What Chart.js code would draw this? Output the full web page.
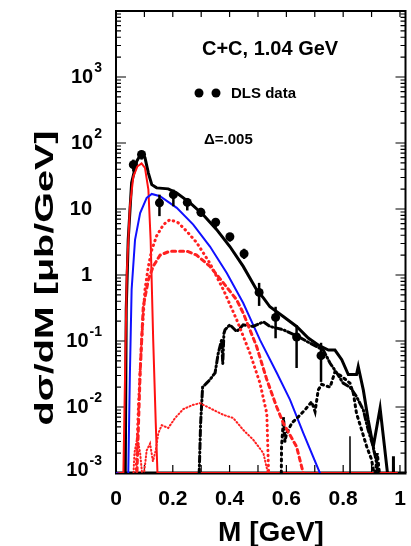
<!DOCTYPE html>
<html>
<head>
<meta charset="utf-8">
<script src="https://cdn.jsdelivr.net/npm/chart.js@4.4.1/dist/chart.umd.min.js"></script>
<style>
  html, body { margin: 0; padding: 0; background: #fff; overflow: hidden; }
  #wrap { width: 411px; height: 546px; }
  canvas { display: block; }
</style>
</head>
<body>
<div id="wrap"><canvas id="c"></canvas></div>
<script>
// DLS data points (M in GeV, dsigma/dM in mub/GeV) with error bar ends
var dlsM  = [0.061, 0.090, 0.153, 0.202, 0.251, 0.299, 0.351, 0.401, 0.451, 0.504, 0.562, 0.636, 0.722];
var dlsV  = [47, 67, 12.4, 16.5, 12.6, 8.9, 6.3, 3.8, 2.1, 0.545, 0.228, 0.115, 0.060];
var dlsLo = [37, 56, 7.8, 11, 9.5, 7.6, 5.2, 3.2, 1.75, 0.34, 0.11, 0.039, 0.024];
var dlsHi = [56, 75, 16.5, 19.7, 14.7, 10.4, 7.3, 4.3, 2.5, 0.76, 0.33, 0.173, 0.094];

// total (black solid)
var totM = [0.030, 0.036, 0.043, 0.055, 0.073, 0.090, 0.102, 0.114, 0.126, 0.143, 0.184, 0.214, 0.261, 0.307,
            0.354, 0.401, 0.448, 0.495, 0.519, 0.542, 0.589, 0.636, 0.677, 0.712, 0.748, 0.771, 0.795, 0.818,
            0.847, 0.853, 0.871, 0.888, 0.906, 0.930, 0.947, 0.960, 0.975, 0.977, 0.979];
var totV = [0.00001, 0.3, 3.4, 25, 53, 71, 60, 35, 23.4, 20.9, 20.2, 17.5, 12.4, 8.2,
            4.9, 2.7, 1.35, 0.60, 0.45, 0.33, 0.235, 0.166, 0.111, 0.087, 0.073, 0.073, 0.052, 0.031,
            0.031, 0.041, 0.018, 0.0064, 0.0025, 0.0096, 0.0022, 0.0007, 0.00001, 0.0018, 0.00001];

// narrow component (red solid)
var redM = [0, 0.026, 0.038, 0.049, 0.061, 0.075, 0.090, 0.102, 0.114, 0.122, 0.131, 0.140, 0.146, 0.99];
var redV = [0.001, 0.001, 1.07, 11, 31, 44, 49, 42, 19.7, 3.4, 0.104, 0.0057, 0.001, 0.001];

// blue solid
var bluM = [0, 0.043, 0.049, 0.055, 0.067, 0.085, 0.108, 0.126, 0.155, 0.214, 0.272, 0.331, 0.390, 0.448,
            0.507, 0.566, 0.613, 0.660, 0.718];
var bluV = [0.001, 0.0009, 0.033, 0.6, 3.4, 8.7, 14.7, 16.9, 15.6, 10.4, 5.8, 2.7, 1.07, 0.376,
            0.104, 0.033, 0.0128, 0.0040, 0.001];

// red dotted (upper)
var rdoM = [0.070, 0.079, 0.090, 0.102, 0.114, 0.126, 0.143, 0.167, 0.190, 0.219, 0.249, 0.284, 0.331,
            0.378, 0.425, 0.472, 0.507, 0.531, 0.538];
var rdoV = [0.0008, 0.01, 0.1, 0.6, 1.35, 2.4, 3.9, 5.8, 6.9, 6.2, 4.6, 3.1, 1.5,
            0.6, 0.21, 0.065, 0.023, 0.008, 0.0008];

// red dashed (lower)
var rdaM = [0.073, 0.085, 0.096, 0.114, 0.131, 0.155, 0.190, 0.249, 0.284, 0.331, 0.378, 0.425, 0.448,
            0.495, 0.531, 0.566, 0.589, 0.636, 0.665];
var rdaV = [0.0008, 0.033, 0.33, 0.85, 1.35, 2.0, 2.3, 2.3, 2.0, 1.35, 0.76, 0.42, 0.265,
            0.083, 0.026, 0.010, 0.0057, 0.0025, 0.0008];

// red fine dotted (lowest)
var rfdM = [0.060, 0.065, 0.075, 0.085, 0.095, 0.100, 0.108, 0.120, 0.130, 0.140, 0.149, 0.161, 0.184,
            0.208, 0.237, 0.272, 0.296, 0.331, 0.378, 0.413, 0.448, 0.483, 0.519, 0.540];
var rfdV = [0.0007, 0.002, 0.0035, 0.002, 0.0007, 0.0011, 0.0022, 0.0028, 0.0015, 0.0022, 0.004, 0.0053, 0.0048,
            0.0068, 0.0093, 0.0108, 0.0114, 0.0096, 0.0076, 0.0068, 0.0045, 0.0032, 0.002, 0.0008];

// black dash-dot
var bddM = [0.290, 0.293, 0.298, 0.305, 0.319, 0.331, 0.349, 0.360, 0.372, 0.376, 0.380, 0.384, 0.401,
            0.425, 0.448, 0.483, 0.519, 0.542, 0.589, 0.636, 0.683, 0.730, 0.754, 0.777, 0.800, 0.824,
            0.847, 0.871, 0.888, 0.906, 0.918, 0.925];
var bddV = [0.00001, 0.001, 0.0057, 0.020, 0.023, 0.026, 0.033, 0.065, 0.104, 0.045, 0.13, 0.148, 0.176,
            0.139, 0.176, 0.166, 0.195, 0.166, 0.148, 0.12, 0.093, 0.073, 0.046, 0.033, 0.023, 0.020,
            0.0144, 0.009, 0.0045, 0.0025, 0.0014, 0.0008];

// black dotted
var bdoM = [0.578, 0.583, 0.590, 0.595, 0.601, 0.619, 0.642, 0.665, 0.689, 0.701, 0.712, 0.724, 0.754,
            0.771, 0.795, 0.824, 0.836, 0.847, 0.865, 0.883, 0.900, 0.912, 0.920, 0.930];
var bdoV = [0.00001, 0.0025, 0.007, 0.003, 0.004, 0.0057, 0.0071, 0.009, 0.012, 0.0085, 0.018, 0.022, 0.020,
            0.034, 0.029, 0.023, 0.016, 0.008, 0.0045, 0.0025, 0.0016, 0.0008, 0.002, 0.0008];

// thin black spike
var spkM = [0.822, 0.824, 0.826];
var spkV = [0.00001, 0.0036, 0.00001];

var xTicks = [0, 0.2, 0.4, 0.6, 0.8, 1];
var yDecades = [-3, -2, -1, 0, 1, 2, 3];

function pts(ms, vs) {
  var out = [];
  for (var i = 0; i < ms.length; i++) out.push({ x: ms[i], y: vs[i] });
  return out;
}

function line(ms, vs, color, width, dash) {
  return {
    data: pts(ms, vs),
    borderColor: color,
    borderWidth: width,
    borderDash: dash || [],
    borderCapStyle: 'round',
    pointRadius: 0,
    tension: 0,
    fill: false,
    clip: 0
  };
}

var FONT = '"Liberation Sans", Arial, Helvetica, sans-serif';

var framePlugin = {
  id: 'frame',
  beforeDatasetsDraw: function(chart) {
    var ctx = chart.ctx, a = chart.chartArea;
    var xs = chart.scales.x, ys = chart.scales.y;
    ctx.save();
    ctx.strokeStyle = '#000';
    // x ticks every 0.1, inside, top and bottom
    ctx.lineWidth = 1.2;
    for (var k = 1; k <= 10; k++) {
      var px = xs.getPixelForValue(k / 10);
      ctx.beginPath();
      ctx.moveTo(px, a.bottom); ctx.lineTo(px, a.bottom - 8);
      ctx.moveTo(px, a.top); ctx.lineTo(px, a.top + 6);
      ctx.stroke();
    }
    // log ticks left and right
    for (var e = -3; e <= 3; e++) {
      for (var m = 1; m <= 9; m++) {
        var py = ys.getPixelForValue(m * Math.pow(10, e));
        var len = (m == 1) ? 10 : 5;
        ctx.beginPath();
        ctx.moveTo(a.left, py); ctx.lineTo(a.left + len, py);
        ctx.moveTo(a.right - 1, py); ctx.lineTo(a.right - 1 - len, py);
        ctx.stroke();
      }
    }
    // frame
    ctx.lineWidth = 2;
    ctx.beginPath();
    ctx.moveTo(a.left, a.bottom);
    ctx.lineTo(a.left, a.top);
    ctx.lineTo(a.right - 1, a.top);
    ctx.lineTo(a.right - 1, a.bottom);
    ctx.stroke();
    ctx.lineWidth = 3;
    ctx.beginPath();
    ctx.moveTo(a.left - 1, a.bottom); ctx.lineTo(a.right, a.bottom);
    ctx.stroke();
    ctx.restore();
  },
  afterDatasetsDraw: function(chart) {
    var ctx = chart.ctx, a = chart.chartArea;
    var xs = chart.scales.x, ys = chart.scales.y;
    ctx.save();
    // error bars
    ctx.strokeStyle = '#000';
    ctx.lineWidth = 2.5;
    for (var i = 0; i < dlsM.length; i++) {
      var px = xs.getPixelForValue(dlsM[i]);
      ctx.beginPath();
      ctx.moveTo(px, ys.getPixelForValue(dlsLo[i]));
      ctx.lineTo(px, ys.getPixelForValue(dlsHi[i]));
      ctx.stroke();
    }
    ctx.fillStyle = '#000';
    // y labels
    for (var j = 0; j < yDecades.length; j++) {
      var d = yDecades[j];
      var py = ys.getPixelForValue(Math.pow(10, d));
      if (py > a.bottom - 3) py = a.bottom - 3;
      ctx.textBaseline = 'middle';
      if (d == 0 || d == 1) {
        ctx.font = 'bold 20px ' + FONT;
        ctx.textAlign = 'right';
        ctx.fillText(d == 0 ? '1' : '10', 92, py);
      } else {
        var ex = String(d);
        ctx.font = 'bold 14px ' + FONT;
        var ew = ctx.measureText(ex).width;
        ctx.textAlign = 'left';
        ctx.fillText(ex, 102 - ew, py - 9);
        ctx.font = 'bold 20px ' + FONT;
        ctx.textAlign = 'right';
        ctx.fillText('10', 101 - ew, py);
      }
    }
    // axis titles
    ctx.textBaseline = 'alphabetic';
    ctx.textAlign = 'center';
    ctx.font = 'bold 28px ' + FONT;
    ctx.fillText('M [GeV]', 271, 541);
    ctx.save();
    ctx.translate(53, 278);
    ctx.rotate(-Math.PI / 2);
    ctx.font = 'bold 26px ' + FONT;
    var yt = 'd\u03c3/dM [\u03bcb/GeV]';
    var w = ctx.measureText(yt).width;
    ctx.scale(295 / w, 1);
    ctx.fillText(yt, 0, 0);
    ctx.restore();
    // annotations
    ctx.textAlign = 'left';
    ctx.font = 'bold 20px ' + FONT;
    ctx.fillText('C+C, 1.04 GeV', 202, 55);
    ctx.font = 'bold 15px ' + FONT;
    ctx.fillText('DLS data', 231, 98);
    ctx.fillText('\u0394=.005', 204, 144);
    ctx.beginPath(); ctx.arc(199, 93, 4.5, 0, 2 * Math.PI); ctx.fill();
    ctx.beginPath(); ctx.arc(216, 93, 4.5, 0, 2 * Math.PI); ctx.fill();
    ctx.restore();
  }
};

var datasets = [
  line(rfdM, rfdV, '#ff2020', 2, [1, 2.5]),
  line(rdaM, rdaV, '#ff2020', 3, [4, 4]),
  line(rdoM, rdoV, '#ff2020', 3, [0.5, 4.5]),
  line(bddM, bddV, '#000', 3, [6, 3, 1, 3]),
  line(bdoM, bdoV, '#000', 3, [2, 4]),
  line(spkM, spkV, '#000', 1.5),
  line(bluM, bluV, '#1010ff', 2),
  line(redM, redV, '#ff1010', 2),
  line(totM, totV, '#000', 3),
  {
    data: pts(dlsM, dlsV),
    showLine: false,
    pointRadius: 4.5,
    pointBackgroundColor: '#000',
    pointBorderColor: '#000',
    pointBorderWidth: 0,
    clip: 0
  }
];

new Chart(document.getElementById('c'), {
  type: 'line',
  data: { datasets: datasets },
  options: {
    responsive: true,
    maintainAspectRatio: false,
    animation: false,
    devicePixelRatio: 1,
    layout: { padding: { top: 11, right: 0, left: 0, bottom: 0 } },
    plugins: { legend: { display: false }, tooltip: { enabled: false } },
    scales: {
      x: {
        type: 'linear',
        min: 0,
        max: 1.023,
        grid: { display: false, drawTicks: false },
        border: { display: false },
        afterBuildTicks: function(s) { s.ticks = xTicks.map(function(v) { return { value: v }; }); },
        afterFit: function(s) { s.height = 73; s.paddingLeft = 0; s.paddingRight = 0; },
        ticks: {
          autoSkip: false,
          maxRotation: 0,
          padding: 14,
          color: '#000',
          font: { family: FONT, weight: 'bold', size: 21 },
          callback: function(v) { return String(v); }
        }
      },
      y: {
        type: 'logarithmic',
        min: 0.001,
        max: 10000,
        grid: { display: false },
        border: { display: false },
        ticks: { display: false },
        afterFit: function(s) { s.width = 116; }
      }
    }
  },
  plugins: [framePlugin]
});
</script>
</body>
</html>
